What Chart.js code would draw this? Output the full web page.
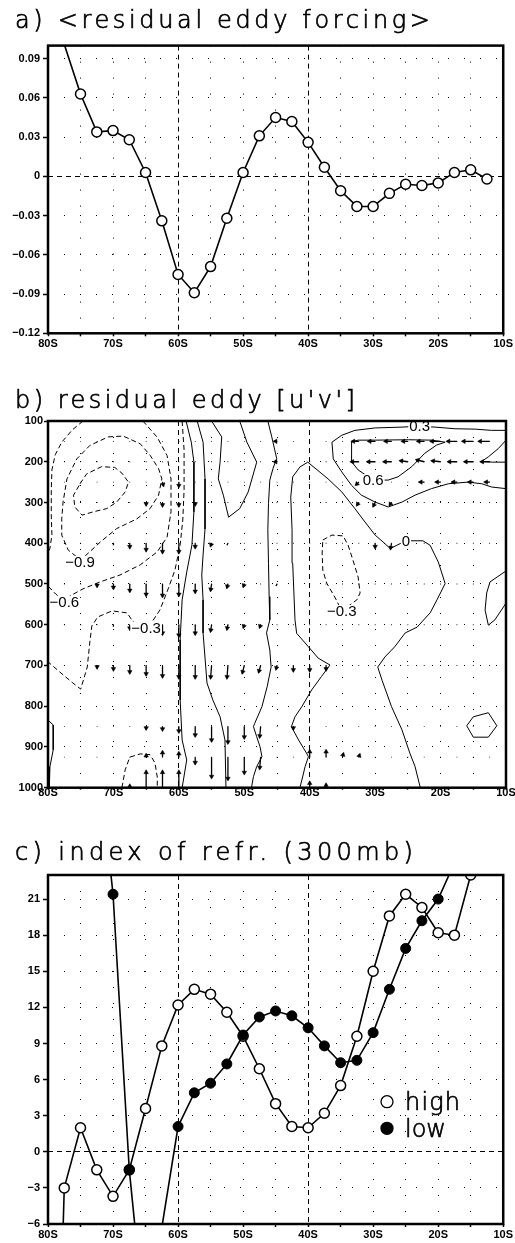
<!DOCTYPE html>
<html lang="en">
<head>
<meta charset="UTF-8">
<meta name="viewport" content="width=device-width, initial-scale=1.0">
<title>residual eddy forcing / residual eddy [u'v'] / index of refraction</title>
<script src="https://cdn.jsdelivr.net/npm/chart.js"></script>
<style>
  body { margin: 0; background: #fff; }
  .panel { position: absolute; left: 0; }
</style>
</head>
<body>
<canvas id="chartA" class="panel" style="top:0px" width="515" height="360"></canvas>
<canvas id="chartB" class="panel" style="top:360px" width="515" height="451"></canvas>
<canvas id="chartC" class="panel" style="top:811px" width="515" height="432"></canvas>

<script>
// ---------- a) <residual eddy forcing> ----------
const latA = [-77.5, -75, -72.5, -70, -67.5, -65, -62.5, -60, -57.5, -55, -52.5, -50, -47.5, -45,
              -42.5, -40, -37.5, -35, -32.5, -30, -27.5, -25, -22.5, -20, -17.5, -15, -12.5];
const forcing = [0.101, 0.063, 0.034, 0.035, 0.028, 0.003, -0.034, -0.075, -0.089, -0.069, -0.032, 0.003, 0.031, 0.045,
                 0.042, 0.026, 0.007, -0.011, -0.023, -0.023, -0.013, -0.006, -0.007, -0.005, 0.003, 0.005, -0.002];

// ---------- b) residual eddy [u'v'] : contour lines (lat, hPa) ----------
const cNeg12 = [[-75.1,254],[-74.1,230],[-71.8,212],[-69.8,214],[-68.7,228],[-67.7,250],[-68.2,274],[-69.5,299],
                [-71.0,315],[-73.1,323],[-74.8,331],[-75.9,311],[-76.1,282],[-75.1,254]];
const cNeg09 = [[-70.8,139],[-68.5,137],[-65.9,156],[-64.4,184],[-63.1,217],[-62.6,242],[-63.1,282],[-64.4,315],
                [-66.4,340],[-69.5,364],[-72.0,397],[-74.3,431],[-75.1,440],[-76.9,417],[-77.9,380],[-77.9,340],
                [-77.7,299],[-77.1,242],[-75.6,193],[-73.6,160],[-70.8,139]];
const cNeg06a = [[-74.65,100],[-76.3,122],[-77.9,152],[-78.9,183],[-79.4,220],[-79.5,269],[-79.5,331],[-79.4,380],
                 [-79.7,412],[-80,424]];
const cNeg06b = [[-65.5,100],[-63.3,140],[-61.8,185],[-61.2,242],[-61.2,323],[-61.8,385],[-63.3,421],[-65.9,453],
                 [-69.0,478],[-72.05,495],[-74.65,512],[-76.6,529],[-77.6,540],[-78.8,525],[-80,505]];
const cNeg03a = [[-59.5,100],[-59.2,171],[-59.2,269],[-59.4,343],[-59.8,404],[-60.6,466],[-61.7,515],[-62.9,564],
                 [-64.1,593],[-65.0,606],[-67.0,593],[-67.9,571],[-70.2,566],[-72.4,581],[-73.3,603],[-73.6,642],
                 [-74.0,704],[-75.0,758],[-76.2,743],[-78.2,716],[-80,691]];
const cNeg03b = [[-68.7,1000],[-68.2,956],[-67.5,925],[-65.9,917],[-64.4,919],[-63.65,939],[-63.3,974],[-63.3,1000]];
const cNeg03c = [[-38.0,392],[-36.6,380],[-34.9,382],[-34.15,404],[-33.4,441],[-32.6,483],[-32.3,522],[-32.8,539],
                 [-35.1,566],[-36.1,534],[-37.4,498],[-38.0,466],[-38.1,424],[-38.0,392]];
const cPos1 = [[-58.9,100],[-58.1,152],[-57.7,201],[-57.7,323],[-58.0,404],[-58.8,471],[-59.5,539],[-59.8,637],
               [-59.8,785],[-59.5,883],[-58.8,932],[-59.5,1000]];
const cPos2 = [[-57.2,100],[-56.3,152],[-56.0,242],[-56.0,365],[-56.3,429],[-56.5,478],[-56.3,539],[-56.3,620],
               [-55.7,743],[-54.8,785],[-53.7,826],[-52.95,883],[-52.8,1000]];
const cPos3 = [[-55.0,100],[-53.45,139],[-53.7,201],[-53.97,242],[-53.2,282],[-52.4,336],[-50.7,315],[-49.4,274],
               [-48.1,201],[-49.6,152],[-50.7,100]];
const cPos4 = [[-46.4,100],[-45.8,139],[-45.05,192],[-45.6,216],[-46.1,245],[-46.3,302],[-46.4,367],[-46.3,449],
               [-46.2,531],[-46.1,588],[-46.6,620],[-46.1,662],[-45.9,704],[-46.5,752],[-47.3,801],[-48.4,842],
               [-48.6,850],[-48.1,875],[-47.6,899],[-47.3,924],[-48.1,948],[-48.6,973],[-48.9,1000]];
const cZero = [[-41.5,1000],[-41.2,981],[-40.7,948],[-40.2,924],[-40.5,915],[-41.7,883],[-42.8,850],[-42.25,826],
               [-41.2,801],[-39.7,760],[-38.2,727],[-36.9,699],[-38.7,682],[-40.2,654],[-42.0,621],[-42.25,588],
               [-42.6,449],[-42.7,367],[-42.9,287],[-42.6,237],[-41.5,213],[-40.3,201],[-37.2,242],[-35.1,274],
               [-33.1,315],[-31.55,348],[-30.0,380],[-28.5,401],[-27.7,413],[-25.3,394],[-22.7,394],[-21.6,405],
               [-20.35,446],[-19.3,499],[-20.55,539],[-21.6,571],[-23.6,606],[-25.4,620],[-27.0,654],[-28.5,679],
               [-29.6,704],[-28.95,736],[-27.5,801],[-25.9,858],[-24.7,915],[-23.9,948],[-23.1,1000]];
const cPos03 = [[-10,123],[-12.2,123],[-14.7,120],[-17.8,119],[-20.85,115],[-23.45,113],[-25.9,115],[-30.0,117],
                [-33.1,123],[-35.1,135],[-36.6,152],[-36.4,193],[-35.1,225],[-33.6,258],[-32.1,282],[-30.0,299],
                [-28.0,311],[-25.9,299],[-23.9,282],[-21.4,266],[-18.8,254],[-15.8,250],[-13.7,254],[-12.2,262],[-10,266]];
const cPos06 = [[-33.6,151],[-32.6,147],[-30.0,147],[-24.9,146],[-21.4,147],[-19.3,152],[-20.6,159],[-22.4,179],
                [-24.4,212],[-26.5,237],[-28.0,245],[-30.3,245],[-32.6,220],[-33.6,200],[-33.6,151]];
const cPos09 = [[-10,147],[-11.2,168],[-12.7,188],[-13.7,199],[-12.1,201],[-10,201]];
const cPosEdge = [[-10,468],[-12.45,495],[-12.95,522],[-13.2,564],[-12.7,601],[-11.7,588],[-10,547]];
const cPosHex = [[-15.0,826],[-12.7,816],[-11.4,848],[-12.7,876],[-15.0,876],[-16.0,848],[-15.0,826]];
const cPosLeft = [[-80,834],[-79.2,846],[-79.2,907],[-79.7,948],[-79.8,1000]];

const dashedContours = [cNeg12, cNeg09, cNeg06a, cNeg06b, cNeg03a, cNeg03b, cNeg03c];
const solidContours = [cPos1, cPos2, cPos3, cPos4, cZero, cPos03, cPos06, cPos09, cPosEdge, cPosHex, cPosLeft];

const labelText = ['\u22120.9', '\u22120.6', '\u22120.3', '\u22120.3', '0', '0.3', '0.6'];
const labelLat  = [-75.1, -77.5, -65.0, -35.1, -25.3, -23.2, -30.3];
const labelLev  = [446, 544, 608, 566, 394, 113, 245];

// vector grid (tiny arrows show as dots) and the visible arrows
const vecLats = [-77.5, -75, -72.5, -70, -67.5, -65, -62.5, -60, -57.5, -55, -52.5, -50, -47.5, -45,
                 -42.5, -40, -37.5, -35, -32.5, -30, -27.5, -25, -22.5, -20, -17.5, -15, -12.5];
const vecLevels = [100, 150, 200, 250, 300, 400, 500, 600, 700, 850, 925, 1000];
const arrowLev = [
  1000,1000,1000,1000,1000,1000,
  925,925,925,925,925,925,925,925,925,925,925,925,
  850,850,850,850,850,850,850,850,850,
  700,700,700,700,700,700,700,700,700,700,700,700,700,700,700,
  600,600,600,600,600,600,600,600,600,600,
  500,500,500,500,500,500,500,500,500,500,500,
  400,400,400,400,400,400,400,400,400,400,
  300,300,300,300,300,300,300,
  250,250,250,250,250,250,250,250,
  200,200,200,200,200,200,200,200,200,200,
  150,150,150,150,150,150,150,150,150,150];
const arrowLat = [
  -67.5,-65,-62.5,-60,-40,-37.5,
  -65,-62.5,-60,-57.5,-55,-52.5,-50,-47.5,-40,-37.5,-35,-32.5,
  -65,-62.5,-60,-57.5,-55,-52.5,-50,-47.5,-42.5,
  -72.5,-70,-67.5,-65,-62.5,-60,-57.5,-55,-52.5,-50,-47.5,-45,-42.5,-40,-37.5,
  -70,-67.5,-65,-62.5,-60,-57.5,-55,-52.5,-50,-47.5,
  -72.5,-70,-67.5,-65,-62.5,-60,-57.5,-55,-52.5,-50,-45,
  -70,-67.5,-65,-62.5,-60,-57.5,-55,-52.5,-30,-27.5,
  -65,-62.5,-60,-57.5,-32.5,-30,-27.5,
  -62.5,-60,-32.5,-22.5,-20,-17.5,-15,-12.5,
  -45,-32.5,-30,-27.5,-25,-22.5,-20,-17.5,-15,-12.5,
  -45,-32.5,-30,-27.5,-25,-22.5,-20,-17.5,-15,-12.5];
const arrowU = [
  0,0,0,0,0,0,
  0,0,0,0,0,0,0,-1,0,0,1,1,
  0,0,0,0,0,0,0,-1,0,
  0,0,0,0,0,0,0,-1,-1,-2,-2,-1,0,0,0,
  0,0,0,0,0,0,-1,-1,-1,-1,
  0,0,0,0,0,0,0,-1,-1,-1,-1,
  0,0,0,0,0,0,-1,-1,0,-1,
  0,0,0,0,-2,-2,-2,
  1,0,-3,-5,-5,-5,-5,-5,
  -3,-8,-8,-8,-8,-8,-9,-9,-9,-9,
  -3,-7,-7,-7,-6,-7,-10,-10,-11,-11];
const arrowV = [
  3,17,17,17,6,4,
  3,6,5,-7,-21,-23,-17,-12,7,7,4,3,
  -3,-4,-6,-10,-15,-17,-12,-11,-3,
  -3,-5,-8,-10,-12,-13,-13,-13,-13,-8,-7,-4,-6,-6,-5,
  -2,-5,-7,-10,-12,-10,-7,-5,-3,-3,
  -3,-5,-8,-12,-13,-12,-9,-7,-4,-3,-2,
  -2,-5,-8,-10,-10,-5,-3,-2,-5,-6,
  -3,-4,-4,-3,-3,-4,-3,
  -4,-5,-3,0,0,0,0,0,
  0,0,0,0,1,2,1,0,0,0,
  0,0,0,0,0,0,0,0,0,0];
const vecLatPerUnit = 0.153;   // degrees of latitude per vector unit
const vecLevPerUnit = 2.45;    // hPa per vector unit

// ---------- c) index of refr. (300mb) ----------
const latHigh = [-80, -77.5, -75, -72.5, -70, -67.5, -65, -62.5, -60, -57.5, -55, -52.5, -50, -47.5,
                 -45, -42.5, -40, -37.5, -35, -32.5, -30, -27.5, -25, -22.5, -20, -17.5, -15];
const refrHigh = [-50, -3.0, 2.0, -1.5, -3.7, -1.5, 3.6, 8.8, 12.2, 13.5, 13.1, 11.6, 9.6, 6.9,
                  4.0, 2.1, 2.0, 3.2, 5.5, 9.6, 15.0, 19.6, 21.4, 20.3, 18.2, 18.0, 23.0];
const latLow = [-72.5, -70, -67.5, -65, -62.5, -60, -57.5, -55, -52.5, -50, -47.5, -45,
                -42.5, -40, -37.5, -35, -32.5, -30, -27.5, -25, -22.5, -20, -17.5];
const refrLow = [34, 21.4, -1.5, -15, -6.3, 2.1, 4.9, 5.7, 7.3, 9.7, 11.2, 11.7,
                 11.3, 10.3, 8.8, 7.4, 7.6, 9.9, 13.5, 16.9, 19.2, 21.0, 24];

// ---------- shared styling ----------
const dotDash = [1, 15];
const refDash = [5, 4];
const fontY = { family: "'Liberation Sans', Arial, sans-serif", weight: 'bold', size: 11 };
const fontX = { family: "'Liberation Sans Narrow', 'Liberation Sans', Arial, sans-serif", weight: 'bold', size: 11, lineHeight: 1 };
const titleFont = '200 24px "DejaVu Sans"';

function minus(s) { return s.replace('-', '\u2212'); }

// thin lettering spread out to a given right edge
function spacedText(ctx, text, x, y, right) {
  ctx.font = titleFont;
  ctx.letterSpacing = '0px';
  const w = ctx.measureText(text).width;
  const sp = Math.max(0, (right - x - w) / (text.length - 1));
  ctx.letterSpacing = sp.toFixed(2) + 'px';
  ctx.lineWidth = 0.7;
  ctx.strokeStyle = '#000';
  ctx.fillStyle = '#000';
  ctx.fillText(text, x, y);
  ctx.strokeText(text, x, y);
}

function latAxis(axisHeight, tickLen, pad) {
  return {
    type: 'linear', min: -80, max: -10,
    afterFit: s => { s.height = axisHeight; },
    ticks: {
      stepSize: 5, autoSkip: false, maxRotation: 0, minRotation: 0, padding: pad, color: '#000', font: fontX,
      callback: v => (v % 10 === 0 ? Math.abs(v) + 'S' : '')
    },
    grid: { color: '#000', lineWidth: 1, tickLength: tickLen, tickColor: '#000', tickWidth: 1.5 },
    border: { display: false, dash: c => (c.tick && (c.tick.value === -60 || c.tick.value === -40)) ? refDash : dotDash }
  };
}

function valueAxis(min, max, step, tickLen, pad, fmt, extra) {
  return Object.assign({
    type: 'linear', min: min, max: max,
    afterFit: s => { s.width = 48; },
    ticks: { stepSize: step, includeBounds: false, padding: pad, color: '#000', font: fontY, callback: fmt },
    grid: { color: '#000', lineWidth: 1, tickLength: tickLen, tickColor: '#000', tickWidth: 1.5 },
    border: { display: false, dash: c => (c.tick && Math.abs(c.tick.value) < 1e-9) ? refDash : dotDash }
  }, extra || {});
}

const framePlugin = {
  id: 'frame',
  afterDraw(chart) {
    const { ctx, chartArea: a } = chart;
    ctx.save();
    ctx.lineWidth = 2.5;
    ctx.strokeStyle = '#000';
    ctx.strokeRect(a.left, a.top, a.right - a.left, a.bottom - a.top);
    ctx.restore();
  }
};

function titlePlugin(text, baseline, right) {
  return {
    id: 'panelTitle',
    afterDraw(chart) {
      const ctx = chart.ctx;
      ctx.save();
      ctx.textAlign = 'left';
      ctx.textBaseline = 'alphabetic';
      spacedText(ctx, text, 15, baseline, right);
      ctx.restore();
    }
  };
}

const baseOptions = (padTop) => ({
  responsive: false,
  animation: false,
  events: [],
  layout: { padding: { top: padTop, right: 9, bottom: 0, left: 0 } },
  plugins: { legend: { display: false }, tooltip: { enabled: false } }
});

// ---------- chart a ----------
new Chart(document.getElementById('chartA'), {
  type: 'line',
  data: {
    datasets: [{
      data: latA.map((x, i) => ({ x: x, y: forcing[i] })),
      borderColor: '#000', borderWidth: 1.6, tension: 0, clip: 0,
      pointRadius: c => (c.raw.y > 0.1 || c.raw.y < -0.12) ? 0 : 5,
      pointBackgroundColor: '#fff', pointBorderColor: '#000', pointBorderWidth: 1.5
    }]
  },
  options: Object.assign(baseOptions(45.6), {
    scales: {
      x: latAxis(26.7, 3, 2),
      y: valueAxis(-0.12, 0.1, 0.03, 5, 3, v => {
        const r = Math.round(v * 100) / 100;
        return r === 0 ? '0' : minus(r.toFixed(2));
      })
    }
  }),
  plugins: [titlePlugin('a) <residual eddy forcing>', 27.7, 430), framePlugin]
});

// ---------- chart b ----------
const contourSets = dashedContours.map(c => ({ pts: c, dash: [5, 3] }))
  .concat(solidContours.map(c => ({ pts: c, dash: [] })))
  .map(c => ({
    data: c.pts.map(p => ({ x: p[0], y: p[1] })),
    showLine: true, borderColor: '#000', borderWidth: 1, borderDash: c.dash,
    pointRadius: 0, tension: 0, clip: 0
  }));

const shaftData = [];
const headData = [];
arrowLat.forEach((lat, i) => {
  const u = arrowU[i], v = arrowV[i], lev = arrowLev[i];
  const tipLat = lat + u * vecLatPerUnit;
  const tipLev = lev - v * vecLevPerUnit;
  shaftData.push({ x: lat, y: lev }, { x: tipLat, y: tipLev }, { x: lat, y: null });
  const len = Math.hypot(u, v);
  if (len >= 3) {
    const back = 1.6 / len;
    headData.push({
      x: tipLat - u * vecLatPerUnit * back,
      y: tipLev + v * vecLevPerUnit * back,
      rot: Math.atan2(u, v) * 180 / Math.PI
    });
  }
});

const dotData = [];
vecLevels.forEach(lev => vecLats.forEach(lat => dotData.push({ x: lat, y: lev })));

const contourLabelPlugin = {
  id: 'contourLabels',
  afterDatasetsDraw(chart) {
    const { ctx, scales } = chart;
    ctx.save();
    ctx.font = '15px "Liberation Sans", Arial, sans-serif';
    ctx.textAlign = 'center';
    ctx.textBaseline = 'middle';
    labelText.forEach((t, i) => {
      const px = scales.x.getPixelForValue(labelLat[i]);
      const py = scales.y.getPixelForValue(labelLev[i]);
      const w = ctx.measureText(t).width;
      ctx.fillStyle = '#fff';
      ctx.fillRect(px - w / 2 - 1, py - 6, w + 2, 12);
      ctx.fillStyle = '#000';
      ctx.fillText(t, px, py + 1);
    });
    ctx.restore();
  }
};

new Chart(document.getElementById('chartB'), {
  type: 'scatter',
  data: {
    datasets: contourSets.concat([
      { data: shaftData, showLine: true, spanGaps: false, borderColor: '#000', borderWidth: 1.3, pointRadius: 0, clip: 0 },
      { data: headData, pointStyle: 'triangle', pointRadius: 2.6, pointRotation: c => c.raw.rot,
        pointBackgroundColor: '#000', pointBorderColor: '#000', pointBorderWidth: 0.5, clip: 0 },
      { data: dotData, pointStyle: 'rect', pointRadius: 0.6, pointBackgroundColor: '#000', pointBorderWidth: 0, clip: 0 }
    ])
  },
  options: Object.assign(baseOptions(61), {
    scales: {
      x: latAxis(23.3, 2, -2),
      y: valueAxis(100, 1000, 100, 4, 1, v => String(v), { reverse: true, border: { display: false, dash: dotDash } })
    }
  }),
  plugins: [titlePlugin("b) residual eddy [u'v']", 48, 355), contourLabelPlugin, framePlugin]
});

// ---------- chart c ----------
const legendPlugin = {
  id: 'hiLoLegend',
  afterDraw(chart) {
    const ctx = chart.ctx;
    ctx.save();
    ctx.lineWidth = 1.3;
    ctx.strokeStyle = '#000';
    ctx.fillStyle = '#fff';
    ctx.beginPath(); ctx.arc(387, 290.7, 6, 0, Math.PI * 2); ctx.fill(); ctx.stroke();
    ctx.fillStyle = '#000';
    ctx.beginPath(); ctx.arc(387, 317.3, 6, 0, Math.PI * 2); ctx.fill(); ctx.stroke();
    ctx.textAlign = 'left';
    ctx.textBaseline = 'alphabetic';
    spacedText(ctx, 'high', 405, 299, 460);
    spacedText(ctx, 'low', 405, 325.7, 446);
    ctx.restore();
  }
};

const refrPoint = c => (c.raw.y > 23.2 || c.raw.y < -6) ? 0 : 5;

new Chart(document.getElementById('chartC'), {
  type: 'line',
  data: {
    datasets: [
      {
        label: 'low', order: 0,
        data: latLow.map((x, i) => ({ x: x, y: refrLow[i] })),
        borderColor: '#000', borderWidth: 1.6, tension: 0, clip: 0,
        pointRadius: refrPoint, pointBackgroundColor: '#000', pointBorderColor: '#000', pointBorderWidth: 1
      },
      {
        label: 'high', order: 1,
        data: latHigh.map((x, i) => ({ x: x, y: refrHigh[i] })),
        borderColor: '#000', borderWidth: 1.6, tension: 0, clip: 0,
        pointRadius: refrPoint, pointBackgroundColor: '#fff', pointBorderColor: '#000', pointBorderWidth: 1.5
      }
    ]
  },
  options: Object.assign(baseOptions(64), {
    scales: {
      x: latAxis(19, 3, 2),
      y: valueAxis(-6, 23, 3, 5, 3, v => minus(String(Math.round(v))))
    }
  }),
  plugins: [titlePlugin('c) index of refr. (300mb)', 49, 413), legendPlugin, framePlugin]
});
</script>
</body>
</html>
